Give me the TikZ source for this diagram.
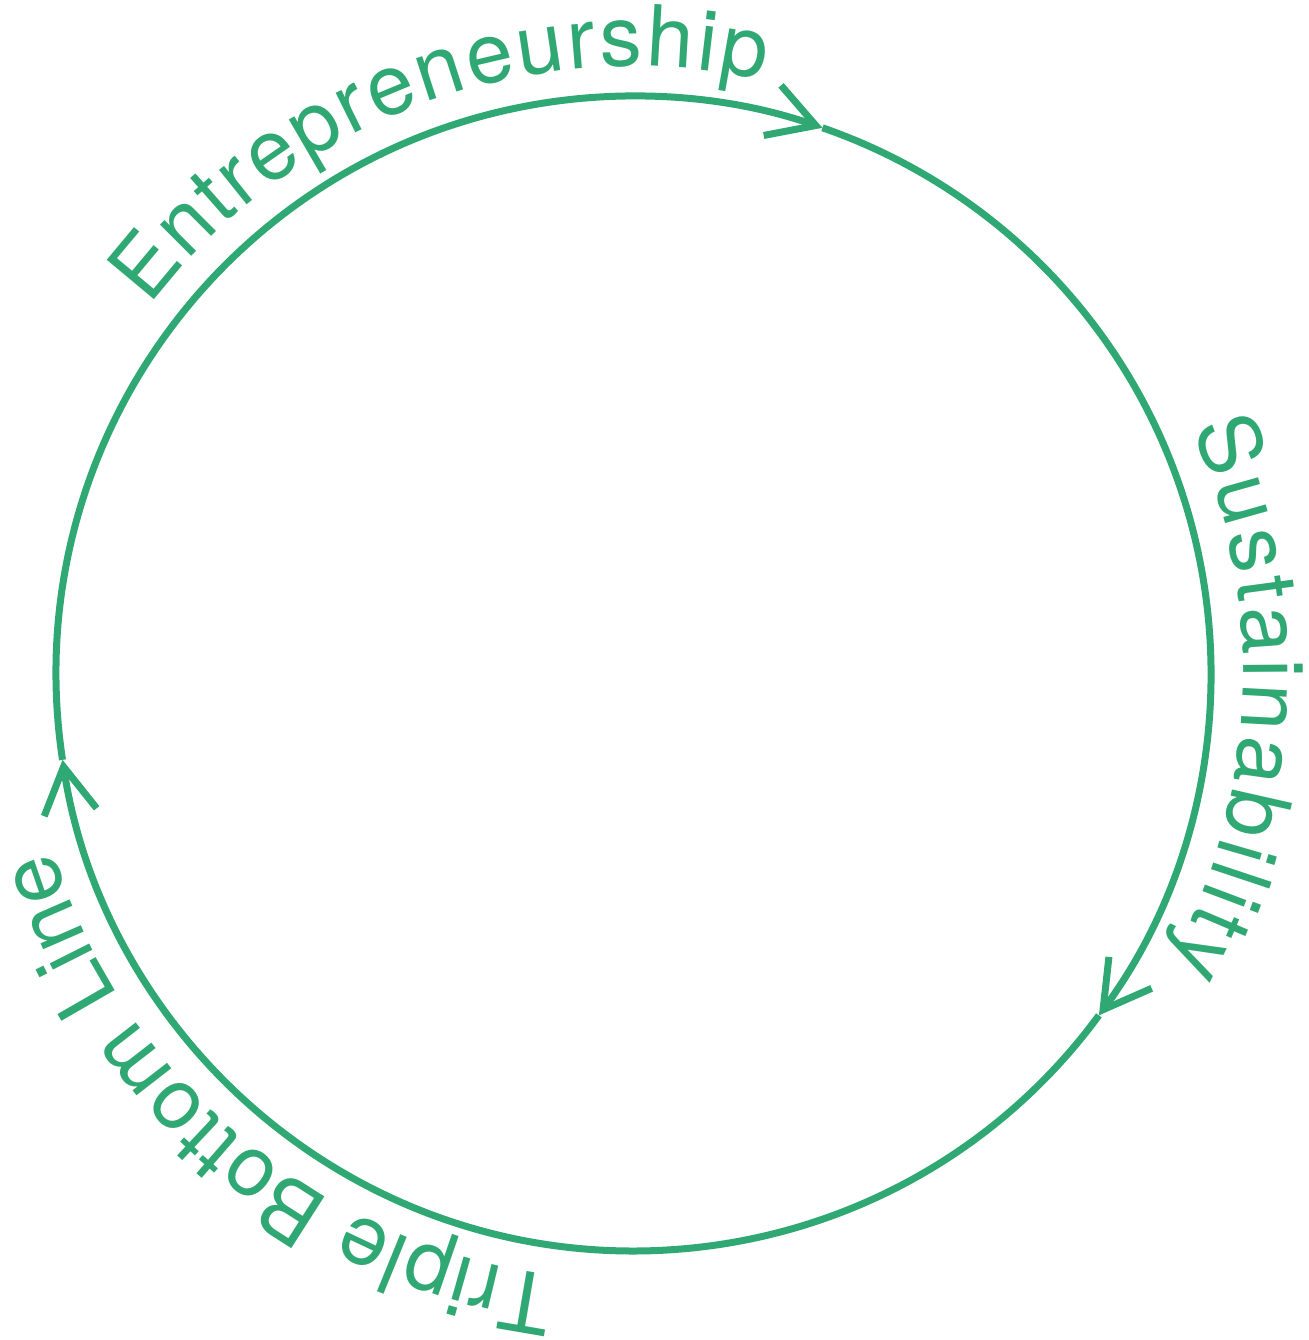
\documentclass[tikz,border=0pt]{standalone}
\usepackage{fontspec}
\setmainfont{TeX Gyre Heros}
\usepackage{tikz}
\usepackage{color}
\usetikzlibrary{arrows.meta,decorations.text}
\definecolor{cyclegreen}{RGB}{48,168,116}
\newcommand{\cyclefont}{\fontsize{48}{52}\selectfont}

\begin{document}
\begin{tikzpicture}[
  cyclearc/.style={cyclegreen, line width=0.14cm, -{Straight Barb[length=0.92cm, width=1.06cm]}},
  cyclelabel/.style={decorate, decoration={text along path, text align={fit to path}, text color=cyclegreen, text={|\cyclefont|#1}}}
]
\useasboundingbox (-12.67,-13.33) rectangle (13.49,13.47);

% arrow tips on the circle
\coordinate (tipE) at (70.9:11.55);
\coordinate (tipS) at (-36.3:11.55);
\coordinate (tipT) at (188.6:11.55);

\draw[cyclearc] (tipT) arc[start angle=188.6, end angle=70.9, radius=11.55];
\draw[cyclearc] (tipE) arc[start angle=70.9, end angle=-36.3, radius=11.55];
\draw[cyclearc] (tipS) arc[start angle=-36.3, end angle=-171.4, radius=11.55];

% labels outside the circle
\path[cyclelabel=Entrepreneurship] (142.8:12.15) arc[start angle=142.8, end angle=77.7, radius=12.15];
\path[cyclelabel=Sustainability] (23.7:12.2) arc[start angle=23.7, end angle=-28.5, radius=12.2];
\path[cyclelabel=Triple Bottom Line] (262.7:12.15) arc[start angle=262.7, end angle=196.9, radius=12.15];

\end{tikzpicture}
\end{document}
